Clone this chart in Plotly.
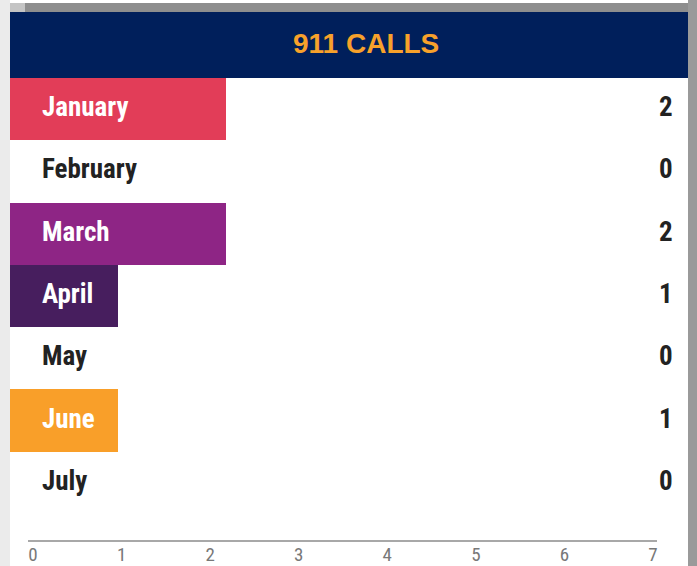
import plotly.graph_objects as go

months = ['January', 'February', 'March', 'April', 'May', 'June', 'July']
calls = [2, 0, 2, 1, 0, 1, 0]
bar_colors = ['#E23D58', '#FFFFFF', '#8E2585', '#471E5E', '#FFFFFF', '#F99F29', '#FFFFFF']
tick_values = [0, 1, 2, 3, 4, 5, 6, 7]

W, H = 697, 566
L, R = 10, 688          # card left / right edge in px
TOP, BOT = 78, 541      # plot area top / axis line in px
BAR_BOTTOM = 514

LABEL_FONT = 'Roboto, Liberation Sans, sans-serif'


def px_x(px):
    return (px - L) / (R - L)


def px_y(py):
    return (BOT - py) / (BOT - TOP)


def narrow(s, stretch='semi-condensed'):
    return '<span style="font-stretch:%s">%s</span>' % (stretch, s)


fig = go.Figure()

fig.add_trace(go.Bar(
    x=calls,
    y=months,
    orientation='h',
    marker=dict(color=bar_colors, line=dict(width=0)),
    hoverinfo='skip',
    showlegend=False))

# month labels and values
annotations = []
for m, v in zip(months, calls):
    annotations.append(dict(
        x=px_x(40), xref='paper', xanchor='left',
        y=m, yref='y', yanchor='middle', yshift=2,
        text=narrow('<b>%s</b>' % m), showarrow=False,
        font=dict(family=LABEL_FONT, size=27, color='#FFFFFF' if v > 0 else '#222222')))
    annotations.append(dict(
        x=px_x(675), xref='paper', xanchor='right',
        y=m, yref='y', yanchor='middle', yshift=2,
        text=narrow('<b>%d</b>' % v), showarrow=False,
        font=dict(family=LABEL_FONT, size=27, color='#222222')))

# header title
annotations.append(dict(
    x=px_x(366), xref='paper', xanchor='center',
    y=px_y(43), yref='paper', yanchor='middle',
    text='<b>911 CALLS</b>', showarrow=False,
    font=dict(family='Liberation Sans, Arial, sans-serif', size=28, color='#F7A12B')))

shapes = [
    # left page background
    dict(type='rect', xref='paper', yref='paper', x0=px_x(0), x1=px_x(L), y0=px_y(H), y1=px_y(0),
         fillcolor='#EBEBEB', line=dict(width=0), layer='below'),
    # right shadow
    dict(type='rect', xref='paper', yref='paper', x0=px_x(R), x1=px_x(W), y0=px_y(H), y1=px_y(0),
         fillcolor='#9A9A9A', line=dict(width=0), layer='below'),
    # top shadow
    dict(type='rect', xref='paper', yref='paper', x0=px_x(L + 15), x1=px_x(R), y0=px_y(12), y1=px_y(3),
         fillcolor='#8E8E8E', line=dict(width=0), layer='below'),
    dict(type='rect', xref='paper', yref='paper', x0=px_x(L), x1=px_x(L + 15), y0=px_y(12), y1=px_y(3),
         fillcolor='#C4C4C4', line=dict(width=0), layer='below'),
    # header
    dict(type='rect', xref='paper', yref='paper', x0=px_x(L), x1=px_x(R), y0=px_y(TOP), y1=px_y(12),
         fillcolor='#001F5B', line=dict(width=0), layer='below'),
    # axis baseline
    dict(type='line', xref='paper', yref='paper', x0=px_x(28), x1=px_x(657), y0=px_y(BOT), y1=px_y(BOT),
         line=dict(color='#A8A8A8', width=2)),
]

# visible tick axis: 0 at x=33, 7 at x=653, spread over the full card width
scale = (653 - 33) / 7.0
ax2_lo = (L - 33) / scale
ax2_hi = 7 + (R - 653) / scale

fig.update_layout(
    width=W, height=H,
    margin=dict(l=L, r=W - R, t=TOP, b=H - BOT, autoexpand=False),
    paper_bgcolor='#FFFFFF',
    plot_bgcolor='rgba(0,0,0,0)',
    bargap=0,
    showlegend=False,
    xaxis=dict(range=[0, (R - L) / 108.0], visible=False, fixedrange=True),
    xaxis2=dict(
        anchor='free', position=0, side='bottom', domain=[0, 1],
        range=[ax2_lo, ax2_hi], fixedrange=True, automargin=False,
        tickvals=tick_values,
        ticktext=[narrow(str(t)) for t in tick_values],
        ticks='', showgrid=False, zeroline=False, showline=False,
        ticklabelstandoff=0,
        tickfont=dict(family='Roboto, sans-serif', size=19, color='#787878')),
    yaxis=dict(
        domain=[px_y(BAR_BOTTOM), 1],
        autorange='reversed', visible=False, fixedrange=True),
    annotations=annotations,
    shapes=shapes,
)

# invisible trace so xaxis2 is drawn
fig.add_trace(go.Scatter(x=[tick_values[0], tick_values[-1]], y=[months[0], months[0]], xaxis='x2',
                         mode='markers', marker=dict(opacity=0), hoverinfo='skip', showlegend=False))

fig.write_html('out.html', config={'displayModeBar': False},
               post_script="document.body.style.margin='0';document.body.style.overflow='hidden';")
